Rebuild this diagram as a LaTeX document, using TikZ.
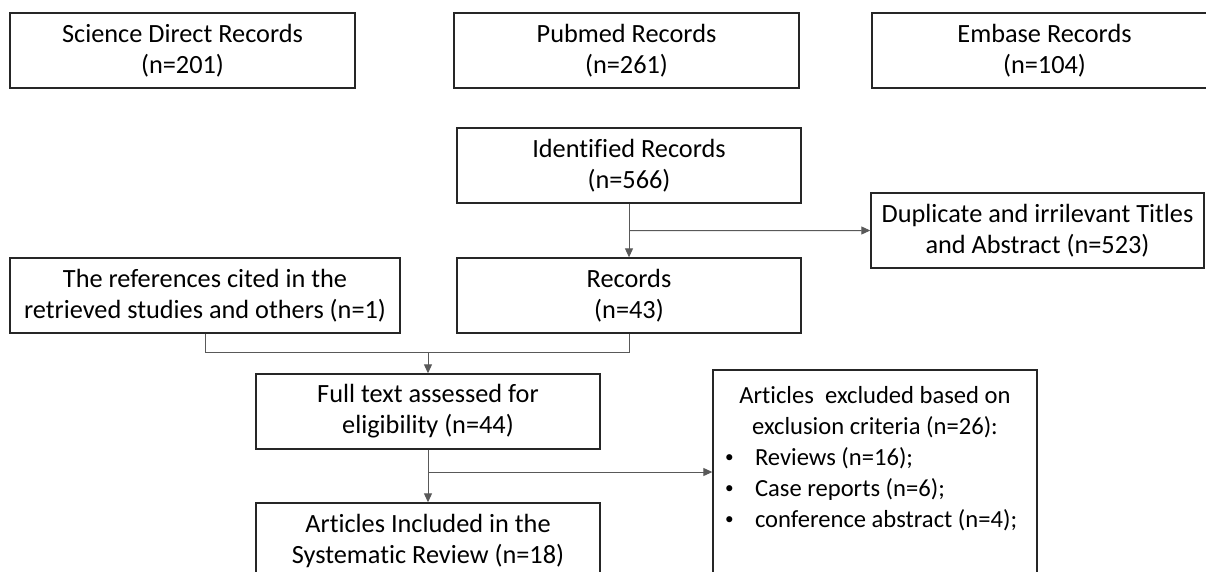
\documentclass[tikz,border=0pt]{standalone}
\usepackage{fontspec}
\setmainfont{Carlito}[Ligatures=NoCommon]
\usetikzlibrary{arrows.meta,calc}
\definecolor{boxc}{rgb}{0.15,0.15,0.15}
\definecolor{connc}{rgb}{0.35,0.35,0.35}
\newcommand{\smbullet}{\raisebox{0.12em}{\scalebox{0.7}{\textbullet}}}
\begin{document}
\begin{tikzpicture}[x=1pt,y=-1pt,
  box/.style={draw=boxc, line width=1.4pt, rectangle, inner sep=0pt, align=center,
    font=\fontsize{26.3}{31}\selectfont, text=black},
  std/.style={box, minimum width=344pt, minimum height=75pt},
  conn/.style={draw=connc, line width=1pt},
  arr/.style={-{Triangle[length=9pt,width=8pt]}}]
\useasboundingbox (0,0) rectangle (1206,571);
\clip (0,0) rectangle (1206,571);
\fill[white] (0,0) rectangle (1206,571);

\node[std, minimum width=345pt] (sd) at (182.5,50.5) {Science Direct Records\\(n=201)};
\node[std, minimum width=345pt] (pm) at (626.5,50.5) {Pubmed Records\\(n=261)};
\node[std, minimum width=345pt] (em) at (1044.5,50.5) {Embase Records\\(n=104)};

\node[std] (id) at (629,165.5) {Identified Records\\(n=566)};
\node[std, minimum width=333pt] (dup) at (1037.5,230.5) {Duplicate and irrilevant Titles\\and Abstract (n=523)};
\node[std, minimum width=390pt] (ref) at (205,295.5) {The references cited in the\\retrieved studies and others (n=1)};
\node[std] (rec) at (629,295.5) {Records\\(n=43)};
\node[std] (ft) at (428,411.5) {Full text assessed for\\eligibility (n=44)};
\node[std] (art) at (428,540.5) {Articles Included in the\\Systematic Review (n=18)};
\node[box, align=left, minimum width=324pt, minimum height=204pt,
      font=\fontsize{24.6}{31}\selectfont] (exc) at (875,472) {%
  \makebox[300pt][c]{Articles\ \ excluded based on}\\
  \makebox[300pt][c]{exclusion criteria (n=26):}\\
  \makebox[300pt][l]{\makebox[30pt][l]{\smbullet}Reviews (n=16);}\\
  \makebox[300pt][l]{\makebox[30pt][l]{\smbullet}Case reports (n=6);}\\
  \makebox[300pt][l]{\makebox[30pt][l]{\smbullet}conference abstract (n=4);}\\
  \mbox{}};

\draw[conn,arr] (id.south) -- (rec.north);
\coordinate (b1) at ($(id.south)!0.5!(rec.north)$);
\draw[conn,arr] (b1) -- (dup.west);
\coordinate (j) at ($(ft.north)+(0,-20.5)$);
\draw[conn] (ref.south) |- (j) -| (rec.south);
\draw[conn,arr] (j) -- (ft.north);
\draw[conn,arr] (ft.south) -- (art.north);
\draw[conn,arr] (ft.south |- exc.west) -- (exc.west);
\end{tikzpicture}
\end{document}
